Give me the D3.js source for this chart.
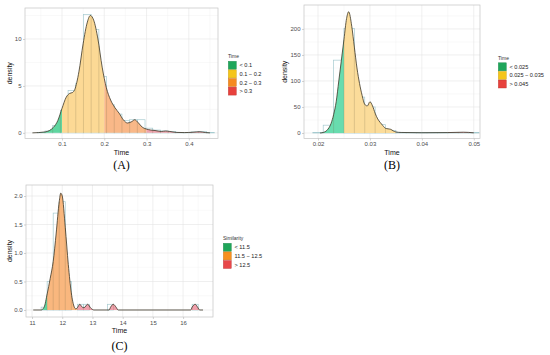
<!DOCTYPE html>
<meta charset="utf-8">
<html>
<head>
<title>Density panels</title>
<script src="https://cdn.jsdelivr.net/npm/d3@7"></script>
<style>
  body { margin: 0; background: #fff; }
  svg { display: block; }
  .tick text { font-family: "Liberation Sans", Arial, sans-serif; font-size: 6px; fill: #4d4d4d; }
  .axtitle { font-family: "Liberation Sans", Arial, sans-serif; font-size: 7px; fill: #111; }
  .leg { font-family: "Liberation Sans", Arial, sans-serif; font-size: 5.6px; fill: #222; }
  .legtitle { font-family: "Liberation Sans", Arial, sans-serif; font-size: 5px; fill: #333; }
  .cap { font-family: "Liberation Serif", "Times New Roman", serif; font-size: 12px; fill: #000; }
</style>
</head>
<body>
<svg width="550" height="355"></svg>
<script>
// ---- panel A data
let aX = [0.03,0.06,0.08,0.09,0.1,0.11,0.118,0.125,0.13,0.14,0.15,0.16,0.167,0.175,0.185,0.195,0.205,0.215,0.225,0.235,0.245,0.255,0.265,0.272,0.28,0.29,0.3,0.31,0.32,0.335,0.345,0.355,0.37,0.39,0.41,0.425,0.44,0.45]
let aDens = [0,0.1,0.6,1.3,2.6,3.8,4.2,4.3,4.6,6.5,9.5,11.8,12.5,12,10,7,4.8,3.5,2.7,2.1,1.4,1.05,1.2,1.4,1.1,0.6,0.4,0.3,0.25,0.15,0.2,0.15,0.05,0.03,0.07,0.12,0.03,0]
let aEdges = [0.0234,0.0416,0.0598,0.078,0.0962,0.1144,0.1326,0.1508,0.169,0.1872,0.2054,0.2236,0.2418,0.26,0.2782,0.2964,0.3146,0.3328,0.351,0.3692,0.3874,0.4056,0.4238,0.442,0.4602]
let aHist = [0,0.05,0.2,0.8,2.4,4.5,5.3,12.6,11,6,3,2,1.3,1.4,1.4,0.5,0.3,0.2,0.15,0.05,0.05,0.1,0.15,0.05]
let aZones = [[-Infinity,0.1],[0.1,0.2],[0.2,0.3],[0.3,Infinity]]
let aLabels = ["< 0.1","0.1 \u2212 0.2","0.2 \u2212 0.3","> 0.3"]

// ---- panel B data
let bX = [0.0204,0.021,0.0217,0.0225,0.023,0.0235,0.024,0.0245,0.025,0.0255,0.0259,0.0265,0.027,0.0275,0.028,0.0285,0.029,0.0295,0.03,0.0305,0.031,0.0315,0.032,0.0325,0.033,0.0335,0.034,0.0345,0.035,0.036,0.04,0.045,0.048,0.05]
let bDens = [0,1,5,18,35,60,100,140,180,220,233,205,165,125,95,72,55,52,60,52,38,27,20,14,9,8,7,4,2,1,0.5,0.8,1.5,0.3]
let bEdges = [0.019,0.021,0.023,0.025,0.027,0.029,0.031,0.033,0.035,0.037,0.039,0.041,0.043,0.045,0.047,0.049,0.051]
let bHist = [1,15,140,201,69,50,16,5,1,1,1,1,1,1,1,1]
let bZones = [[-Infinity,0.025],[0.025,0.035],[0.045,Infinity]]
let bLabels = ["< 0.025","0.025 \u2212 0.035","> 0.045"]

// ---- panel C data
let cX = [11.04,11.3,11.4,11.5,11.6,11.7,11.8,11.9,11.95,12.0,12.1,12.2,12.3,12.4,12.45,12.5,12.58,12.66,12.72,12.84,12.95,13.05,13.55,13.6,13.69,13.78,13.85,16.25,16.3,16.4,16.48,16.55,16.66]
let cDens = [0,0,0.05,0.28,0.55,0.85,1.35,1.9,2.05,2.0,1.45,0.8,0.3,0.05,0.02,0.04,0.1,0.05,0.04,0.1,0.03,0,0,0.05,0.1,0.05,0,0,0.05,0.1,0.05,0,0]
let cEdges = [11.3,11.5,11.7,11.9,12.1,12.3,12.5,12.7,12.9,13.1,13.3,13.5,13.7,13.9,14.1,14.3,14.5,14.7,14.9,15.1,15.3,15.5,15.7,15.9,16.1,16.3,16.5]
let cHist = [0.05,0.5,1.7,1.9,0.5,0,0.1,0.1,0,0,0,0.1,0,0,0,0,0,0,0,0,0,0,0,0,0,0.1]
let cZones = [[-Infinity,11.5],[11.5,12.5],[12.5,Infinity]]
let cLabels = ["< 11.5","11.5 \u2212 12.5","> 12.5"]

let svg = d3.select("svg")

function panel(o) {
    let g = svg.append("g")
    let x = d3.scaleLinear().domain(o.xdom).range([o.left, o.right])
    let y = d3.scaleLinear().domain(o.ydom).range([o.bottom, o.top])
    let id = o.id

    g.append("rect").attr("x", o.left).attr("y", o.top)
        .attr("width", o.right - o.left).attr("height", o.bottom - o.top).attr("fill", "#fff")

    // grid
    o.xminor.forEach(v => g.append("line").attr("x1", x(v)).attr("x2", x(v)).attr("y1", o.top).attr("y2", o.bottom)
        .attr("stroke", "#f1f1f1").attr("stroke-width", 0.4))
    o.yminor.forEach(v => g.append("line").attr("y1", y(v)).attr("y2", y(v)).attr("x1", o.left).attr("x2", o.right)
        .attr("stroke", "#f1f1f1").attr("stroke-width", 0.4))
    o.xticks.forEach(v => g.append("line").attr("x1", x(v)).attr("x2", x(v)).attr("y1", o.top).attr("y2", o.bottom)
        .attr("stroke", "#e4e4e4").attr("stroke-width", 0.6))
    o.yticks.forEach(v => g.append("line").attr("y1", y(v)).attr("y2", y(v)).attr("x1", o.left).attr("x2", o.right)
        .attr("stroke", "#e4e4e4").attr("stroke-width", 0.6))

    let clipAll = "clip" + id
    svg.append("clipPath").attr("id", clipAll).append("rect")
        .attr("x", o.left).attr("y", o.top).attr("width", o.right - o.left).attr("height", o.bottom - o.top)
    let inner = g.append("g").attr("clip-path", `url(#${clipAll})`)

    // histogram outlines
    inner.selectAll("rect.h").data(o.hist).enter().append("rect")
        .attr("x", (d, i) => x(o.edges[i]))
        .attr("width", (d, i) => x(o.edges[i + 1]) - x(o.edges[i]))
        .attr("y", d => y(d))
        .attr("height", d => y(0) - y(d))
        .attr("fill", "none").attr("stroke", "#a6cbd0").attr("stroke-width", 0.7)

    let pts = o.xs.map((v, i) => [v, o.dens[i]])
    let area = d3.area().x(d => x(d[0])).y0(y(0)).y1(d => y(d[1])).curve(d3.curveMonotoneX)
    let line = d3.line().x(d => x(d[0])).y(d => y(d[1])).curve(d3.curveMonotoneX)

    // zone fills, each zone clipped to its x range
    o.zones.forEach((z, k) => {
        let cid = `z${id}${k}`
        let lo = x(Math.max(z[0], o.xdom[0])), hi = x(Math.min(z[1], o.xdom[1]))
        svg.append("clipPath").attr("id", cid).append("rect")
            .attr("x", lo).attr("y", o.top).attr("width", hi - lo).attr("height", o.bottom - o.top)
        inner.append("path").datum(pts).attr("d", area).attr("clip-path", `url(#${cid})`)
            .attr("fill", o.fills[k])
    })

    // bin edges seen through the fill
    let dAt = d3.scaleLinear().domain(o.xs).range(o.dens).clamp(true)
    let inZone = v => o.zones.some(z => v >= z[0] && v <= z[1])
    o.edges.forEach(v => {
        if (!inZone(v) || dAt(v) <= 0) return
        inner.append("line").attr("x1", x(v)).attr("x2", x(v)).attr("y1", y(0)).attr("y2", y(dAt(v)))
            .attr("stroke", "#7a6a46").attr("stroke-opacity", 0.45).attr("stroke-width", 0.5)
    })

    inner.append("path").datum(pts).attr("d", line)
        .attr("fill", "none").attr("stroke", "#3b3526").attr("stroke-width", 0.8)

    g.append("rect").attr("x", o.left).attr("y", o.top)
        .attr("width", o.right - o.left).attr("height", o.bottom - o.top)
        .attr("fill", "none").attr("stroke", "#c4c4c4").attr("stroke-width", 0.7)

    // axes
    let xa = g.append("g").attr("transform", `translate(0,${o.bottom})`)
        .call(d3.axisBottom(x).tickValues(o.xticks).tickFormat(o.xfmt).tickSize(2).tickPadding(1.5))
    let ya = g.append("g").attr("transform", `translate(${o.left},0)`)
        .call(d3.axisLeft(y).tickValues(o.yticks).tickFormat(o.yfmt).tickSize(2).tickPadding(1.5))
    ;[xa, ya].forEach(a => {
        a.select(".domain").remove()
        a.selectAll(".tick line").attr("stroke", "#b3b3b3").attr("stroke-width", 0.6)
    })

    g.append("text").attr("class", "axtitle").attr("x", (o.left + o.right) / 2).attr("y", o.bottom + 16)
        .attr("text-anchor", "middle").text("Time")
    g.append("text").attr("class", "axtitle").attr("text-anchor", "middle")
        .attr("transform", `translate(${o.ylabX},${(o.top + o.bottom) / 2}) rotate(-90)`).text("density")
    g.append("text").attr("class", "cap").attr("x", (o.left + o.right) / 2).attr("y", o.capY)
        .attr("text-anchor", "middle").text(o.cap)

    // legend
    let lg = g.append("g").attr("transform", `translate(${o.legX},${o.legY})`)
    lg.append("text").attr("class", "legtitle").attr("x", 0).attr("y", -3).text(o.legTitle)
    o.labels.forEach((t, k) => {
        lg.append("rect").attr("x", 0.3).attr("y", k * 8.6 + 0.3).attr("width", 8).attr("height", 8)
            .attr("fill", o.keys[k]).attr("stroke", d3.color(o.keys[k]).darker(0.6)).attr("stroke-width", 0.4)
        lg.append("text").attr("class", "leg").attr("x", 11.5).attr("y", k * 8.6 + 6.3).text(t)
    })
}

panel({
    id: "A", left: 25, right: 218, top: 8, bottom: 138.5,
    xdom: [0.0125, 0.469], ydom: [-0.6, 13.3],
    xticks: [0.1, 0.2, 0.3, 0.4], yticks: [0, 5, 10],
    xminor: [0.05, 0.15, 0.25, 0.35, 0.45], yminor: [2.5, 7.5, 12.5],
    xfmt: d3.format(".1f"), yfmt: d3.format("d"),
    xs: aX, dens: aDens, edges: aEdges, hist: aHist, zones: aZones,
    fills: ["#5fd6a0", "#fcd995", "#f9b888", "#f0a3ad"],
    keys: ["#1fa65a", "#f5c518", "#f68a1e", "#e8413c"],
    labels: aLabels, legTitle: "Time", legX: 228, legY: 61,
    ylabX: 12, cap: "(A)", capY: 169
})

panel({
    id: "B", left: 304, right: 480, top: 5, bottom: 138.5,
    xdom: [0.0173, 0.0512], ydom: [-10.6, 246],
    xticks: [0.02, 0.03, 0.04, 0.05], yticks: [0, 50, 100, 150, 200],
    xminor: [0.025, 0.035, 0.045], yminor: [25, 75, 125, 175, 225],
    xfmt: d3.format(".2f"), yfmt: d3.format("d"),
    xs: bX, dens: bDens, edges: bEdges, hist: bHist, zones: bZones,
    fills: ["#68dcae", "#fbdc9a", "#f0a3ad"],
    keys: ["#1fa65a", "#f5c518", "#e8413c"],
    labels: bLabels, legTitle: "Time", legX: 498, legY: 62.5,
    ylabX: 287, cap: "(B)", capY: 169
})

panel({
    id: "C", left: 26, right: 213, top: 185, bottom: 317,
    xdom: [10.8, 16.99], ydom: [-0.123, 2.193],
    xticks: [11, 12, 13, 14, 15, 16], yticks: [0, 0.5, 1, 1.5, 2],
    xminor: [11.5, 12.5, 13.5, 14.5, 15.5, 16.5], yminor: [0.25, 0.75, 1.25, 1.75],
    xfmt: d3.format("d"), yfmt: d3.format(".1f"),
    xs: cX, dens: cDens, edges: cEdges, hist: cHist, zones: cZones,
    fills: ["#5fd6a0", "#f9b77e", "#f0a0ac"],
    keys: ["#1fa65a", "#f7901e", "#e8474a"],
    labels: cLabels, legTitle: "Similarity", legX: 223, legY: 243,
    ylabX: 12, cap: "(C)", capY: 350
})
</script>
</body>
</html>
